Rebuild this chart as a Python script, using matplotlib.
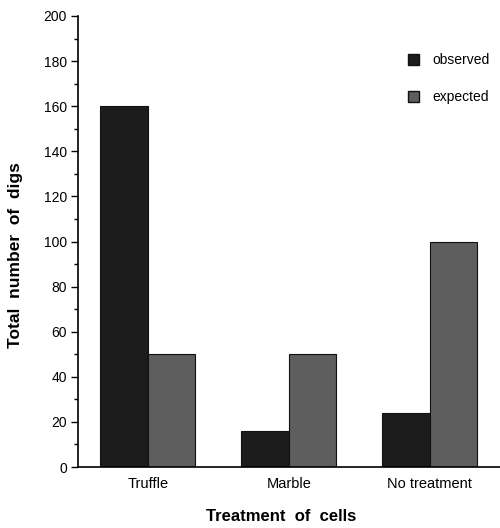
import numpy as np
import matplotlib.pyplot as plt
from matplotlib.patches import Patch

plt.rcParams['font.family'] = ['Liberation Sans', 'DejaVu Sans']

categories = ["Truffle", "Marble", "No treatment"]
observed = [160, 16, 24]
expected = [50, 50, 100]

obs_color = "#1c1c1c"
exp_color = "#5e5e5e"

fig = plt.figure(figsize=(5, 5.28), dpi=100)
ax = fig.add_axes([0.156, 0.1155, 0.844, 0.8542])

x = np.arange(len(categories))
w = 0.337
ax.bar(x - w / 2, observed, w, color=obs_color, edgecolor="#111111", linewidth=0.8)
ax.bar(x + w / 2, expected, w, color=exp_color, edgecolor="#111111", linewidth=0.8)

ax.set_xlim(-0.496, 2.5)
ax.set_ylim(0, 200)
ax.spines["top"].set_visible(False)
ax.spines["right"].set_visible(False)
ax.spines["left"].set_linewidth(1.2)
ax.spines["bottom"].set_linewidth(1.2)

ax.set_yticks(np.arange(0, 201, 20))
ax.set_yticks(np.arange(0, 201, 10), minor=True)
ax.tick_params(axis="y", direction="out", length=5, width=1, labelsize=10, pad=3)
ax.tick_params(axis="y", which="minor", direction="out", length=3, width=1)
ax.set_xticks(x)
ax.set_xticklabels(categories)
ax.tick_params(axis="x", length=0, labelsize=10.5, pad=7)

# axis titles placed on the figure to match the reference positions
fig.text(0.032, 0.517, "Total  number  of  digs", rotation=90, fontsize=12.5,
         fontweight="bold", ha="center", va="center")
fig.text(0.563, 0.021, "Treatment  of  cells", fontsize=12,
         fontweight="bold", ha="center", va="center")

handles = [Patch(facecolor=obs_color, edgecolor="#111111", label="observed"),
           Patch(facecolor=exp_color, edgecolor="#111111", label="expected")]
ax.legend(handles=handles, loc="upper left", bbox_to_anchor=(0.753, 0.945), frameon=False,
          fontsize=10, handlelength=0.8, handleheight=0.8, handletextpad=0.9,
          labelspacing=1.65)

fig.savefig("out.png", dpi=100)
